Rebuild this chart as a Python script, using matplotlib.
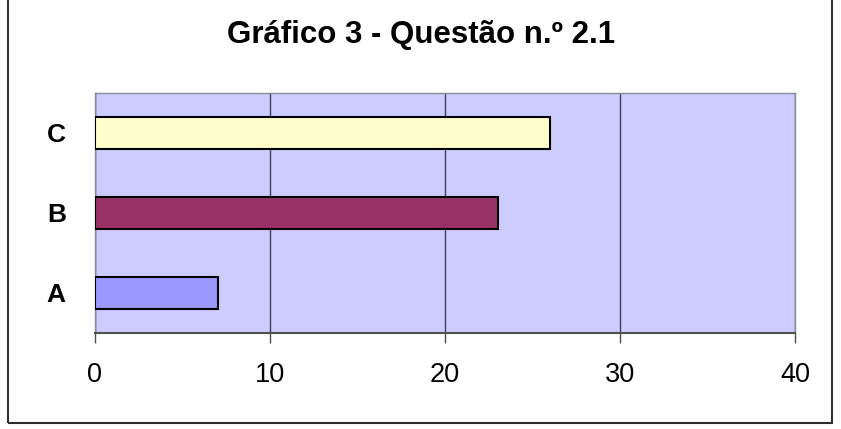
import matplotlib.pyplot as plt
from matplotlib.patches import Rectangle

plt.rcParams["font.family"] = ["Liberation Sans", "DejaVu Sans"]

categories = ["A", "B", "C"]
values = [7, 23, 26]
bar_colors = ["#9999FF", "#993366", "#FFFFCC"]
x_ticks = [0, 10, 20, 30, 40]
title = "Gráfico 3 - Questão n.º 2.1"

W, H = 841, 429
fig = plt.figure(figsize=(W / 100, H / 100), dpi=100)
ax = fig.add_axes([95 / W, 1 - 333 / H, 700 / W, 240 / H])

ax.set_facecolor("#CCCCFF")
ax.barh(categories, values, height=0.39, color=bar_colors,
        edgecolor="black", linewidth=1.5, zorder=3)

ax.set_xlim(0, 40)
ax.set_ylim(-0.5, 2.5)
ax.set_xticks(x_ticks)
ax.xaxis.grid(True, color="#404050", linewidth=1.0, zorder=1)
ax.set_axisbelow(True)

ax.tick_params(axis="x", length=7, width=1.0, color="#505050",
               pad=14, labelsize=19.5, direction="out")
ax.tick_params(axis="y", length=0, pad=21, labelsize=19)
for lab in ax.get_yticklabels():
    lab.set_fontweight("bold")

for side in ("top", "left", "right"):
    ax.spines[side].set_color("#8A8A9A")
    ax.spines[side].set_linewidth(1.0)
ax.spines["bottom"].set_color("#505050")
ax.spines["bottom"].set_linewidth(1.5)

fig.text(421 / W, 1 - 43 / H, title, ha="center", va="baseline",
         fontsize=22.5, fontweight="bold")

# outer chart frame
fig.patches.append(Rectangle((8 / W, 1 - 423 / H), 824 / W, 430 / H,
                             transform=fig.transFigure, fill=False,
                             edgecolor="#303030", linewidth=1.5))

fig.savefig("out.png", dpi=100)
